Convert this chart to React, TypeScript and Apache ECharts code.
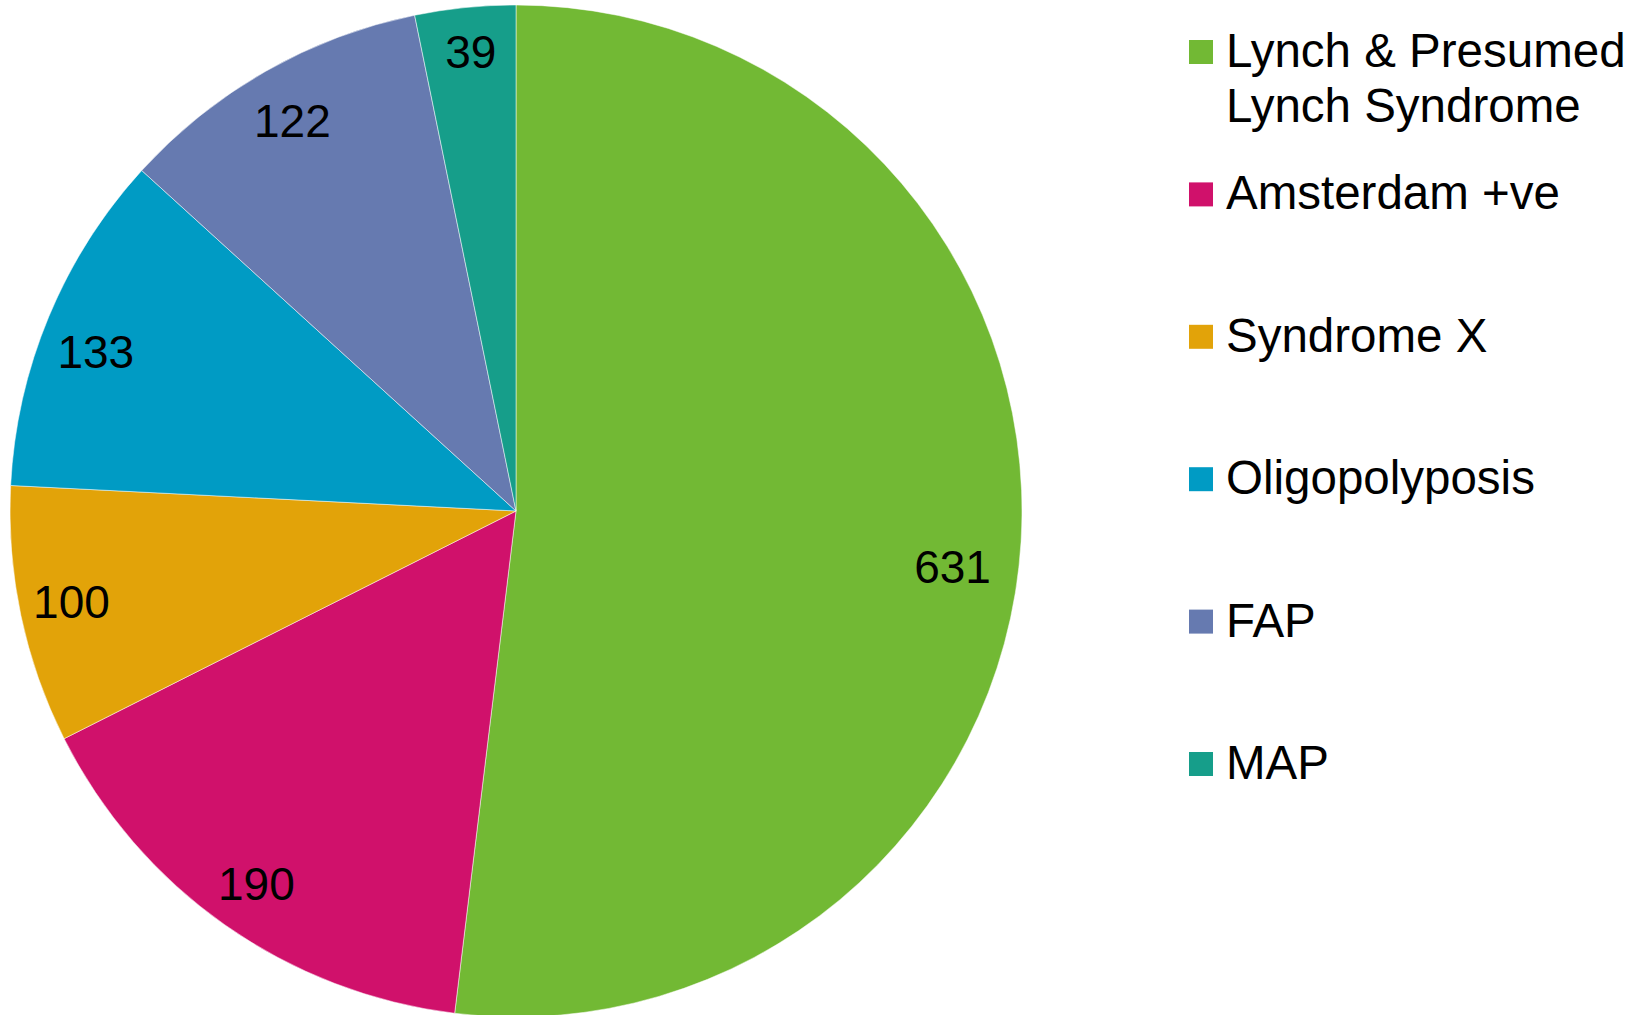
import React, { useEffect, useRef } from "react";
import * as echarts from "echarts";

const categories = [
  "Lynch & Presumed\nLynch Syndrome",
  "Amsterdam +ve",
  "Syndrome X",
  "Oligopolyposis",
  "FAP",
  "MAP",
];
const values = [631, 190, 100, 133, 122, 39];
const colors = ["#72B934", "#D0116B", "#E2A309", "#009BC4", "#667AB0", "#169E8A"];

// label nudges (layout only), in px
const labelNudges: [number, number][] = [
  [-21, 28],
  [4, -2],
  [4, -4],
  [3, 17],
  [3, 8],
  [1, -3],
];

const FONT = "'Liberation Sans', Arial, sans-serif";

export default function App() {
  const ref = useRef<HTMLDivElement>(null);
  useEffect(() => {
    if (!ref.current) return;
    const chart = echarts.init(ref.current, undefined, { renderer: "svg" });
    const data = categories.map((name, i) => ({
      name,
      value: values[i],
      itemStyle: { color: colors[i] },
    }));
    const cx = 516;
    const cy = 511;
    const r = 506;
    const legendX = 1189;
    const legendY0 = 52;
    const legendStep = 142.4;
    const graphic: any[] = [];
    categories.forEach((name, i) => {
      const yc = legendY0 + i * legendStep;
      graphic.push({
        type: "rect",
        left: legendX,
        top: yc - 12,
        shape: { width: 24, height: 24 },
        style: { fill: colors[i] },
        silent: true,
      });
      graphic.push({
        type: "text",
        x: legendX + 37,
        y: yc - 29,
        style: {
          text: name,
          fill: "#000",
          font: `47.5px ${FONT}`,
          lineHeight: 55,
          verticalAlign: "top",
          align: "left",
        },
        silent: true,
      });
    });
    chart.setOption({
      animation: false,
      backgroundColor: "#ffffff",
      graphic,
      series: [
        {
          type: "pie",
          center: [cx, cy],
          radius: [0, r],
          startAngle: 90,
          clockwise: true,
          data,
          label: { show: false },
          labelLine: { show: false },
          itemStyle: { borderColor: "#ffffff", borderWidth: 0.5 },
          silent: true,
        },
        {
          type: "pie",
          center: [cx, cy],
          radius: [0, r * 1.8],
          startAngle: 90,
          clockwise: true,
          data: categories.map((name, i) => ({
            name,
            value: values[i],
            label: { offset: labelNudges[i] },
          })),
          itemStyle: { color: "rgba(0,0,0,0)", borderWidth: 0 },
          label: {
            show: true,
            position: "inside",
            formatter: "{c}",
            color: "#000",
            fontSize: 46,
            fontFamily: FONT,
          },
          labelLine: { show: false },
          silent: true,
        },
      ],
    });
    return () => chart.dispose();
  }, []);
  return (
    <div
      ref={ref}
      style={{ position: "fixed", left: 0, top: 0, width: 1646, height: 1015 }}
    />
  );
}
